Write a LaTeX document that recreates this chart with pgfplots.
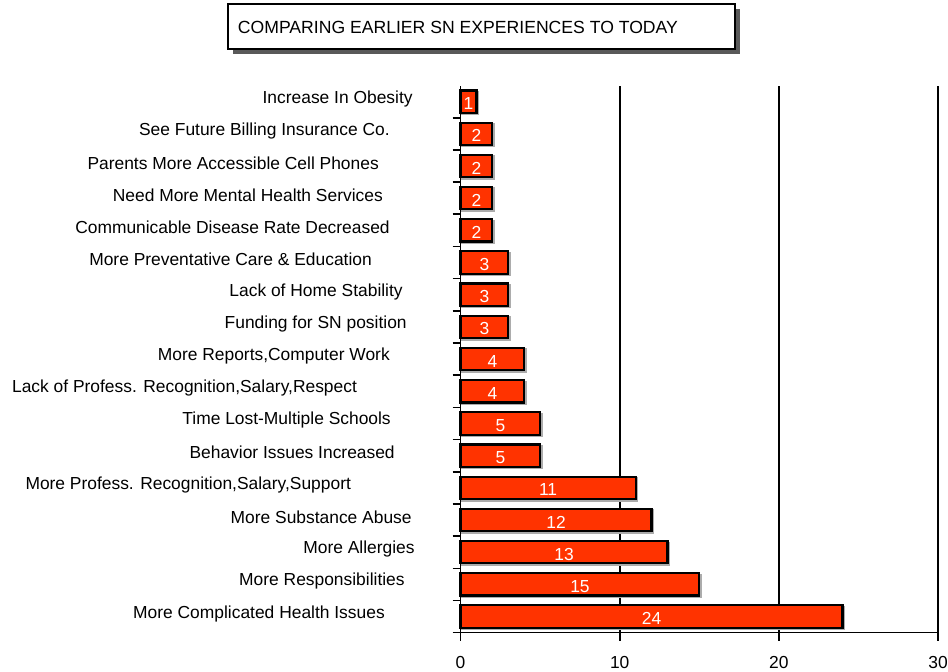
\documentclass[border=0pt]{standalone}
\usepackage{pgfplots}
\usepackage{pgfplotstable}
\pgfplotsset{compat=1.18}
\usepackage{fontspec}
\setmainfont{Liberation Sans}
\definecolor{barred}{HTML}{FF3300}
\newcommand\lab[2]{#2\hspace*{#1bp}}
\newcommand\fs{\fontsize{17.5bp}{21bp}\selectfont}
\newcommand\ft{\fontsize{17.7bp}{22bp}\selectfont}

\pgfplotstableread{
idx v mid
17 1 0.5
16 2 1
15 2 1
14 2 1
13 2 1
12 3 1.5
11 3 1.5
10 3 1.5
9 4 2
8 4 2
7 5 2.5
6 5 2.5
5 11 5.5
4 12 6
3 13 6.5
2 15 7.5
1 24 12
}\data

\begin{document}
\begin{tikzpicture}
\begin{axis}[
  at={(0,0)}, anchor=south west,
  scale only axis, width=480bp, height=550bp,
  xmin=0, xmax=30, ymin=0.5, ymax=17.5,
  axis lines*=left,
  axis line style={line width=1.6bp, black},
  xtick={0,10,20,30},
  xmajorgrids,
  major grid style={line width=1.6bp, black},
  tick align=outside,
  major tick length=8bp,
  tick style={line width=1.6bp, black},
  xticklabel style={font=\fs, yshift=-12bp},
  /pgf/number format/assume math mode=true,
  ytick={0.5,1.5,...,16.5},
  yticklabels={},
  extra y ticks={1,...,17},
  extra y tick style={major tick length=0pt,
    yticklabel style={anchor=east, inner sep=0pt, yshift=3bp, font=\fs}},
  extra y tick labels={
    {\lab{76}{More Complicated Health Issues}},
    {\lab{56}{More Responsibilities}},
    {\lab{46}{More Allergies}},
    {\lab{49}{More Substance Abuse}},
    {\lab{110}{More Profess. Recognition,Salary,Support}},
    {\lab{66}{Behavior Issues Increased}},
    {\lab{70}{Time Lost-Multiple Schools}},
    {\lab{104}{Lack of Profess. Recognition,Salary,Respect}},
    {\lab{71}{More Reports,Computer Work}},
    {\lab{54}{Funding for SN position}},
    {\lab{58}{Lack of Home Stability}},
    {\lab{89}{More Preventative Care \& Education}},
    {\lab{71}{Communicable Disease Rate Decreased}},
    {\lab{78}{Need More Mental Health Services}},
    {\lab{82}{Parents More Accessible Cell Phones}},
    {\lab{71}{See Future Billing Insurance Co.}},
    {\lab{48}{Increase In Obesity}}
  },
  clip=false,
]
\addplot[xbar, bar width=22.5bp, fill=gray!65, draw=gray!65, line width=2bp,
  xshift=1.5bp, yshift=-1.5bp] table[x=v, y=idx] {\data};
\addplot[xbar, bar width=22.5bp, fill=barred, draw=black, line width=2.2bp]
  table[x=v, y=idx] {\data};
\addplot[only marks, mark=none, nodes near coords, point meta=explicit symbolic,
  nodes near coords style={anchor=center, text=white, font=\fs, yshift=-2bp}]
  table[x=mid, y=idx, meta=v] {\data};
\end{axis}
\fill[black!65] (-229bp,582bp) rectangle (281bp,627bp);
\draw[line width=2bp, fill=white] (-234bp,587bp) rectangle (276bp,632bp);
\node[anchor=base west, inner sep=0pt, font=\ft] at (-224bp,602bp) {COMPARING EARLIER SN EXPERIENCES TO TODAY};
\pgfresetboundingbox
\path[use as bounding box] (-463bp,-39bp) rectangle (490bp,636bp);
\end{tikzpicture}
\end{document}
